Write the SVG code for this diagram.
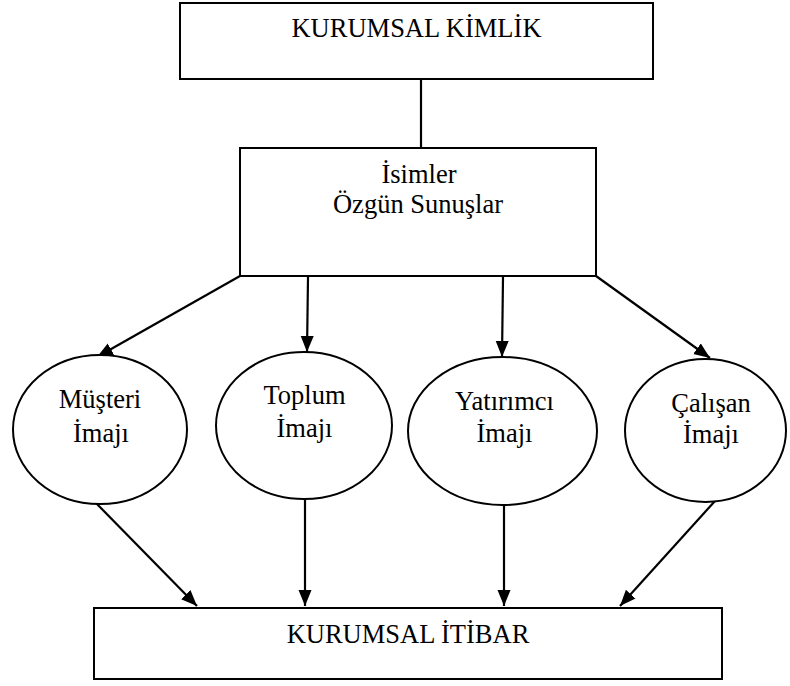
<svg xmlns="http://www.w3.org/2000/svg" width="790" height="686" viewBox="0 0 790 686">
  <style>
    .box { fill: #ffffff; stroke: #000000; stroke-width: 2; }
    .oval { fill: #ffffff; stroke: #000000; stroke-width: 2; }
    .lbl { font-family: "Liberation Serif", "Times New Roman", serif; font-size: 26.5px; fill: #000000; text-anchor: middle; }
    .link { stroke: #000000; stroke-width: 2.2; fill: none; }
    .arrow { marker-end: url(#head); }
  </style>
  <defs>
    <marker id="head" markerUnits="userSpaceOnUse" markerWidth="17" markerHeight="14" refX="16" refY="6.5" orient="auto">
      <path d="M0,0 L16,6.5 L0,13 z" fill="#000000"/>
    </marker>
  </defs>
  <rect width="790" height="686" fill="#ffffff"/>

  <!-- connectors -->
  <g id="connectors">
    <line class="link" x1="421" y1="79" x2="421" y2="148"/>
    <line class="link arrow" x1="240" y1="276" x2="97" y2="357"/>
    <line class="link arrow" x1="308" y1="277" x2="307" y2="352"/>
    <line class="link arrow" x1="503" y1="277" x2="502" y2="357"/>
    <line class="link arrow" x1="596" y1="276" x2="710" y2="358"/>
    <line class="link arrow" x1="95" y1="502" x2="197" y2="606"/>
    <line class="link arrow" x1="305" y1="499" x2="305" y2="606"/>
    <line class="link arrow" x1="504" y1="505" x2="504" y2="606"/>
    <line class="link arrow" x1="715" y1="501" x2="620" y2="606"/>
  </g>

  <!-- corporate identity -->
  <g id="kimlik">
    <rect class="box" x="180" y="3" width="473" height="76"/>
    <text class="lbl" x="416.5" y="37">KURUMSAL KİMLİK</text>
  </g>

  <!-- names and presentations -->
  <g id="sunuslar">
    <rect class="box" x="240" y="148" width="356" height="128"/>
    <text class="lbl" x="419" y="183">İsimler</text>
    <text class="lbl" x="418" y="213">Özgün Sunuşlar</text>
  </g>

  <!-- image ovals -->
  <g id="musteri">
    <ellipse class="oval" cx="100" cy="429.5" rx="87" ry="74.5"/>
    <text class="lbl" x="100" y="408">Müşteri</text>
    <text class="lbl" x="101" y="442">İmajı</text>
  </g>
  <g id="toplum">
    <ellipse class="oval" cx="304" cy="425.5" rx="88" ry="73.5"/>
    <text class="lbl" x="304.5" y="404">Toplum</text>
    <text class="lbl" x="304.5" y="437">İmajı</text>
  </g>
  <g id="yatirimci">
    <ellipse class="oval" cx="502.5" cy="431" rx="94.5" ry="74"/>
    <text class="lbl" x="504.5" y="410">Yatırımcı</text>
    <text class="lbl" x="504.5" y="442">İmajı</text>
  </g>
  <g id="calisan">
    <ellipse class="oval" cx="705.5" cy="430.5" rx="80.5" ry="71.5"/>
    <text class="lbl" x="711" y="412">Çalışan</text>
    <text class="lbl" x="711" y="443">İmajı</text>
  </g>

  <!-- corporate reputation -->
  <g id="itibar">
    <rect class="box" x="94" y="608" width="628" height="71"/>
    <text class="lbl" x="408" y="643">KURUMSAL İTİBAR</text>
  </g>
</svg>
